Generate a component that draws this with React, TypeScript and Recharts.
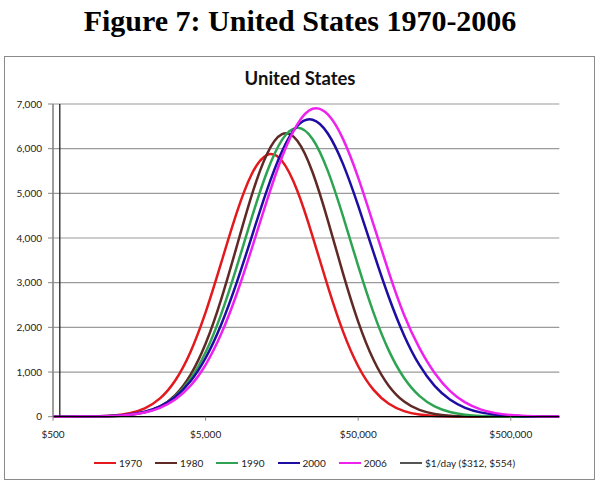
import {
  CartesianGrid,
  Legend,
  Line,
  LineChart,
  XAxis,
  YAxis,
} from "recharts";

// income grid ($, tenth-of-a-decade steps) and density values
const incomes = [
  500, 631, 794, 1000, 1259, 1585, 1995, 2512, 3162, 3981, 5012, 6310, 7943,
  10000, 12589, 15849, 19953, 25119, 31623, 39811, 50119, 63096, 79433, 100000,
  125893, 158489, 199526, 251189, 316228, 398107, 501187, 630957, 794328,
  1040000,
];

const us1970 = [
  0, 1, 3, 10, 29, 77, 187, 410, 811, 1451, 2346, 3431, 4535, 5421, 5858, 5724,
  5057, 4039, 2917, 1905, 1124, 600, 290, 126, 50, 18, 6, 2, 0, 0, 0, 0, 0, 0,
];
const us1980 = [
  0, 0, 1, 4, 13, 37, 96, 227, 484, 936, 1643, 2616, 3775, 4944, 5871, 6323,
  6177, 5472, 4397, 3204, 2118, 1269, 690, 340, 152, 62, 23, 8, 2, 0, 0, 0, 0, 0,
];
const us1990 = [
  0, 0, 2, 6, 17, 43, 102, 225, 455, 846, 1449, 2286, 3320, 4440, 5466, 6198,
  6470, 6218, 5503, 4484, 3364, 2324, 1479, 866, 467, 232, 106, 45, 17, 6, 2, 0,
  0, 0,
];
const us2000 = [
  0, 1, 3, 8, 22, 51, 112, 231, 443, 792, 1320, 2052, 2972, 4016, 5060, 5943,
  6510, 6648, 6341, 5654, 4712, 3672, 2674, 1820, 1158, 689, 383, 199, 97, 44,
  19, 7, 3, 1,
];
const us2006 = [
  0, 1, 3, 7, 18, 43, 96, 199, 384, 692, 1168, 1843, 2718, 3747, 4827, 5814,
  6546, 6893, 6766, 6214, 5341, 4296, 3232, 2276, 1540, 980, 580, 320, 165, 80,
  36, 15, 6, 2,
];

// $1/day poverty line ($554 is the one inside the axis range)
const povertyX = [554, 554];
const povertyY = [0, 7000];

const xTicks = [500, 5000, 50000, 500000];
const yTicks = [0, 1000, 2000, 3000, 4000, 5000, 6000, 7000];

const series = [
  { key: "y1970", name: "1970", color: "#e3191d", values: us1970 },
  { key: "y1980", name: "1980", color: "#5f2a26", values: us1980 },
  { key: "y1990", name: "1990", color: "#2ea452", values: us1990 },
  { key: "y2000", name: "2000", color: "#1d0da3", values: us2000 },
  { key: "y2006", name: "2006", color: "#ee22ee", values: us2006 },
];
const povertyName = "$1/day ($312, $554)";
const legendOrder = [...series.map((s) => s.name), povertyName];

const rows = incomes.map((income, i) => {
  const row: Record<string, number> = { income };
  series.forEach((s) => (row[s.key] = s.values[i]));
  return row;
});

const povertyRows = povertyX.map((income, i) => ({ income, v: povertyY[i] }));

const FONT = "Lato, 'Open Sans', sans-serif";
const tickStyle = { fontFamily: FONT, fontSize: 10, fill: "#222" };

function LegendRow({ payload }: { payload?: Array<{ value: string; color: string }> }) {
  const items = [...(payload ?? [])].sort(
    (a, b) => legendOrder.indexOf(a.value) - legendOrder.indexOf(b.value)
  );
  return (
    <div
      style={{
        display: "flex",
        justifyContent: "center",
        gap: 13,
        fontFamily: FONT,
        fontSize: 10,
        color: "#222",
        paddingLeft: 4,
      }}
    >
      {items.map((p) => (
        <div key={p.value} style={{ display: "flex", alignItems: "center" }}>
          <span
            style={{
              display: "inline-block",
              width: 22,
              height: 0,
              borderTop: `2.5px solid ${p.value === povertyName ? "#555" : p.color}`,
              marginRight: 3,
            }}
          />
          <span>{p.value}</span>
        </div>
      ))}
    </div>
  );
}

export default function App() {
  return (
    <div
      style={{
        position: "absolute",
        left: 0,
        top: 0,
        width: 605,
        height: 491,
        background: "#fff",
        overflow: "hidden",
      }}
    >
      <div
        style={{
          position: "absolute",
          left: 0,
          top: 5.6,
          width: 600,
          textAlign: "center",
          fontFamily: "'Liberation Serif', 'Times New Roman', serif",
          fontWeight: "bold",
          fontSize: 30,
          lineHeight: "30px",
          color: "#000",
        }}
      >
        Figure 7: United States 1970-2006
      </div>
      <div
        style={{
          position: "absolute",
          left: 4,
          top: 56,
          width: 591,
          height: 424,
          boxSizing: "border-box",
          border: "1px solid #8a8a8a",
        }}
      />
      <div
        style={{
          position: "absolute",
          left: 0,
          top: 66.7,
          width: 600,
          textAlign: "center",
          fontFamily: FONT,
          fontWeight: "bold",
          fontSize: 18.5,
          lineHeight: "22px",
          color: "#111",
        }}
      >
        United States
      </div>
      <div style={{ position: "absolute", left: 0, top: 0 }}>
        <LineChart
          width={605}
          height={491}
          data={rows}
          margin={{ top: 104, right: 45.7, bottom: 44.3, left: 3 }}
        >
          <CartesianGrid vertical={false} stroke="#9a9a9a" strokeWidth={1.2} />
          <XAxis
            dataKey="income"
            type="number"
            scale="log"
            domain={[500, 1040000]}
            allowDataOverflow
            ticks={xTicks}
            interval={0}
            height={30}
            tickSize={4}
            tickMargin={10}
            tick={tickStyle}
            tickFormatter={(v: number) => `$${v.toLocaleString("en-US")}`}
            axisLine={{ stroke: "#000", strokeWidth: 1.2 }}
            tickLine={{ stroke: "#868686" }}
          />
          <YAxis
            type="number"
            domain={[0, 7000]}
            ticks={yTicks}
            interval={0}
            width={50}
            tickSize={5}
            tickMargin={6}
            tick={tickStyle}
            tickFormatter={(v: number) => v.toLocaleString("en-US")}
            axisLine={{ stroke: "#868686", strokeWidth: 1.6 }}
            tickLine={{ stroke: "#868686" }}
          />
          <Legend
            layout="horizontal"
            verticalAlign="middle"
            align="center"
            wrapperStyle={{ top: 457, left: 0, width: 605 }}
            content={<LegendRow />}
          />
          {series.map((s) => (
            <Line
              key={s.key}
              dataKey={s.key}
              name={s.name}
              type="natural"
              stroke={s.color}
              strokeWidth={2.5}
              dot={false}
              activeDot={false}
              isAnimationActive={false}
            />
          ))}
          <Line
            data={povertyRows}
            dataKey="v"
            name={povertyName}
            type="linear"
            stroke="#222"
            strokeWidth={1.3}
            dot={false}
            activeDot={false}
            isAnimationActive={false}
          />
        </LineChart>
      </div>
    </div>
  );
}
